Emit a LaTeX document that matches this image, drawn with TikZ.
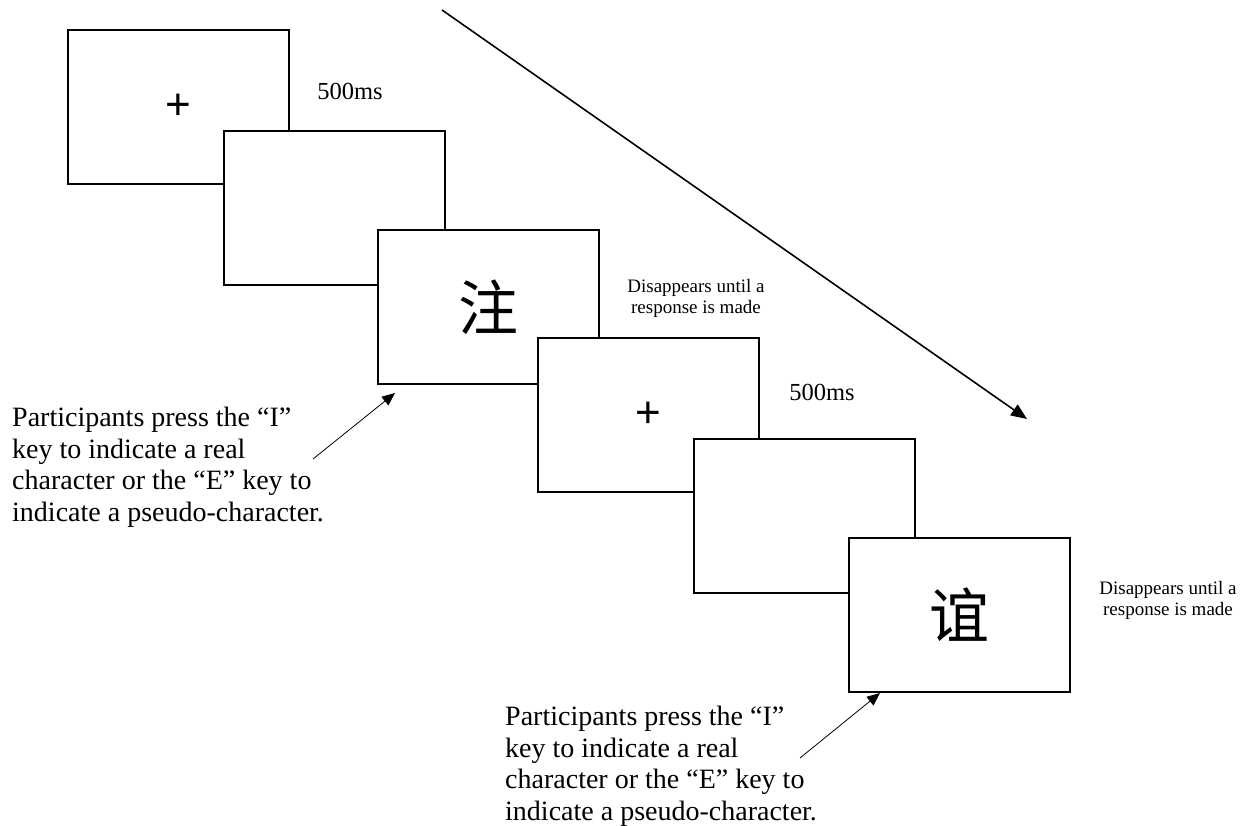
\documentclass[tikz,border=0pt]{standalone}
\usepackage{fontspec}
\setmainfont{Liberation Serif}
\newfontfamily\cjkfont{Noto Sans CJK SC}
\newfontfamily\plusfont{Liberation Sans}
\usetikzlibrary{positioning,arrows.meta}

\tikzset{
  screen/.style={draw, line width=2pt, fill=white, anchor=north west, inner sep=0pt,
    minimum width=221pt, minimum height=154pt},
  fixation/.style={font=\plusfont\fontsize{44}{44}\selectfont},
  hanzi/.style={font=\cjkfont\fontsize{60}{60}\selectfont},
  timing/.style={font=\fontsize{24.5}{28}\selectfont, inner sep=0pt},
  note/.style={font=\fontsize{19}{21}\selectfont, align=center, inner sep=0pt},
  instr/.style={font=\fontsize{28}{31.5}\selectfont, align=left, anchor=north west, inner sep=0pt},
  pointer/.style={-{Triangle[length=13pt,width=11pt]}, line width=0.8pt}
}

\begin{document}
\begin{tikzpicture}[x=1pt, y=-1pt]
\useasboundingbox (0,0) rectangle (1248,825);

% screens, back to front
\node[screen, fixation] (s1) at (67,29) {+};
\node[screen] (s2) at (223,130) {};
\node[screen, hanzi] (s3) at (377,229) {注};
\node[screen, fixation] (s4) at (537,337) {+};
\node[screen] (s5) at (693,438) {};
\node[screen, hanzi] (s6) at (848,537) {谊};

\node[timing] (t1) at (350,91) {500ms};
\node[timing] (t2) at (822,392) {500ms};
\node[note] (n1) at (696,298) {Disappears until a\\response is made};
\node[note] (n2) at (1168,600) {Disappears until a\\response is made};

\node[instr] (p1) at (12,407) {Participants press the “I”\\key to indicate a real\\character or the “E” key to\\indicate a pseudo-character.};
\node[instr] (p2) at (505,706) {Participants press the “I”\\key to indicate a real\\character or the “E” key to\\indicate a pseudo-character.};

% time arrow
\coordinate (ta) at (442,10);
\coordinate (tb) at (1027,419);
\draw[-{Triangle[length=16pt,width=13pt]}, line width=1.6pt] (ta) -- (tb);

\coordinate (a1) at (313,459);
\coordinate (b1) at (395,393);
\draw[pointer] (a1) -- (b1);
\coordinate (a2) at (800,758);
\coordinate (b2) at (880,693);
\draw[pointer] (a2) -- (b2);
\end{tikzpicture}
\end{document}
